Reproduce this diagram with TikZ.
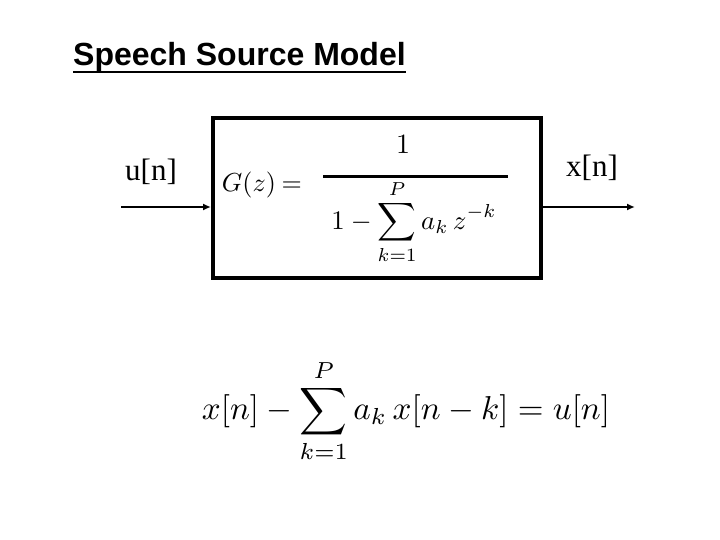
\documentclass[tikz,border=0pt]{standalone}
\usepackage{fontspec}
\usepackage{graphicx}
\usetikzlibrary{arrows.meta}
\setmainfont{Liberation Serif}
\newfontfamily\arialf{Liberation Sans}
\begin{document}
\begin{tikzpicture}[x=1pt,y=-1pt,
  sig/.style={line width=2.8pt,-{Latex[length=8pt,width=7pt]}},
  lbl/.style={inner sep=0pt,font=\fontsize{31}{36}\selectfont},
  mth/.style={inner sep=0pt}]
\path[use as bounding box,fill=white] (0,0) rectangle (720,540);
% title
\node[inner sep=0pt,anchor=base west,font=\arialf\bfseries\fontsize{32}{40}\selectfont] (title) at (73,66) {Speech Source Model};
\draw[line width=2.8pt] ([yshift=-6pt]title.base west) -- ([yshift=-6pt]title.base east);
% block
\node[draw,line width=4pt,minimum width=328pt,minimum height=160pt,inner sep=0pt] (box) at (377,198) {};
\node[mth] (G) at (262,185) {\resizebox{80pt}{!}{$G(z)\mskip4mu{=}$}};
\node[mth] (num) at (403,144) {\resizebox{!}{18pt}{$1$}};
\node[mth] (den) at (414,222) {\resizebox{165pt}{!}{$\displaystyle 1-\sum_{k=1}^{P} a_k\, z^{-k}$}};
\coordinate (rl) at (323,177);
\coordinate (rr) at (508,177);
\draw[line width=3pt] (rl) -- (rr);
% signals
\coordinate (in) at (121,207);
\coordinate (out) at (635,207);
\draw[sig] (in) -- (in -| box.west);
\draw[sig] (box.east |- out) -- (out);
\node[lbl] (u) at (151,172) {u[n]};
\node[lbl] (x) at (592,168) {x[n]};
% difference equation
\node[mth] (eq) at (406,411) {\resizebox{408pt}{!}{$\displaystyle x[n]-\sum_{k=1}^{P} a_k\, x[n-k] = u[n]$}};
\end{tikzpicture}
\end{document}
